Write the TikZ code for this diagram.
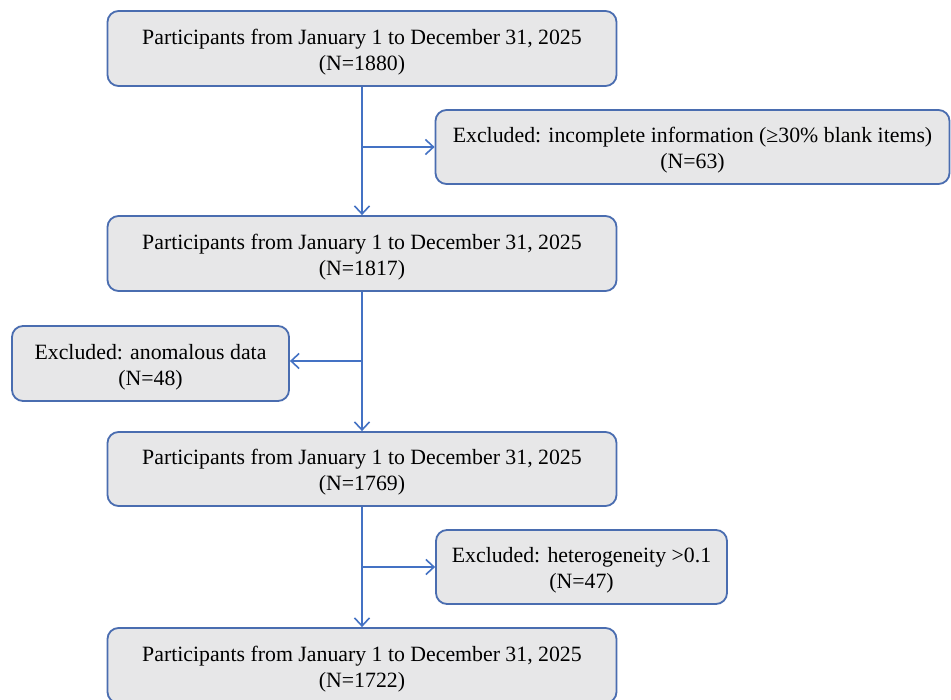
\documentclass[tikz,border=0pt]{standalone}
\usepackage{fontspec}
\setmainfont{Liberation Serif}
\usetikzlibrary{arrows.meta}
\definecolor{lineblue}{HTML}{4472C4}
\definecolor{boxborder}{HTML}{4A6DB0}
\definecolor{boxfill}{HTML}{E7E7E8}
\newcommand{\tstrut}{\rule{0pt}{22pt}}
\begin{document}
\begin{tikzpicture}[x=1pt,y=-1pt,
  box/.style={draw=boxborder, line width=1.8pt, fill=boxfill, rounded corners=11pt,
    inner sep=0pt, align=center, font=\fontsize{21.8}{26}\selectfont},
  conn/.style={draw=lineblue, line width=1.6pt, -{Straight Barb[length=8pt,width=15pt,line width=1.6pt]}}
]
\useasboundingbox (0,0) rectangle (951,700);
\fill[white] (0,0) rectangle (951,700);
\node[box, minimum width=509pt, minimum height=75pt] (b1) at (362,48.5)
  {\tstrut Participants from January 1 to December 31, 2025\\(N=1880)};
\node[box, minimum width=514pt, minimum height=74pt] (e1) at (692.5,147)
  {\tstrut Excluded: incomplete information (≥30\% blank items)\\(N=63)};
\node[box, minimum width=509pt, minimum height=75pt] (b2) at (362,253.5)
  {\tstrut Participants from January 1 to December 31, 2025\\(N=1817)};
\node[box, minimum width=277pt, minimum height=75pt] (e2) at (150.5,363.5)
  {\tstrut Excluded: anomalous data\\(N=48)};
\node[box, minimum width=509pt, minimum height=74pt] (b3) at (362,469)
  {\tstrut Participants from January 1 to December 31, 2025\\(N=1769)};
\node[box, minimum width=291pt, minimum height=74pt] (e3) at (581.5,567)
  {\tstrut Excluded: heterogeneity >0.1\\(N=47)};
\node[box, minimum width=509pt, minimum height=75pt] (b4) at (362,665.5)
  {\tstrut Participants from January 1 to December 31, 2025\\(N=1722)};
\coordinate (j1) at (362,147);
\coordinate (j2) at (362,361);
\coordinate (j3) at (362,567);
\draw[conn] (b1.south) -- (b2.north);
\draw[conn] (b2.south) -- (b3.north);
\draw[conn] (b3.south) -- (b4.north);
\draw[conn] (j1) -- (j1 -| e1.west);
\draw[conn] (j2) -- (j2 -| e2.east);
\draw[conn] (j3) -- (j3 -| e3.west);
\end{tikzpicture}
\end{document}
